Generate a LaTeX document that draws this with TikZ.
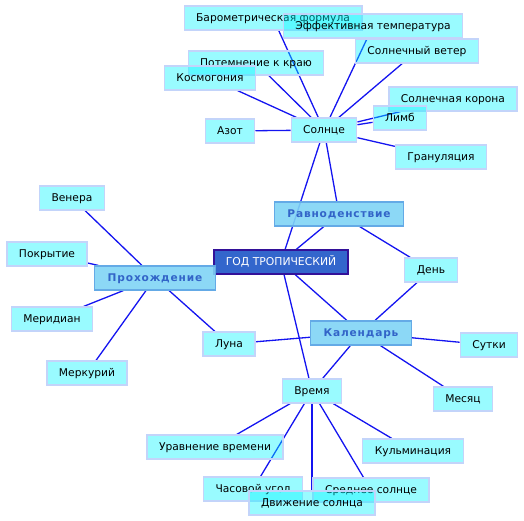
\documentclass[tikz,border=0pt]{standalone}
\usepackage{fontspec}
\setmainfont{DejaVu Sans}
\newfontfamily\hubfont{DejaVu Sans}[LetterSpace=8]
\usepackage{tikz}
\usetikzlibrary{backgrounds}
\definecolor{leaffill}{RGB}{0,245,255}
\definecolor{leafline}{RGB}{195,212,250}
\definecolor{hubfill}{RGB}{128,212,245}
\definecolor{hubline}{RGB}{100,170,230}
\definecolor{hubtext}{RGB}{50,100,200}
\definecolor{rootfill}{RGB}{51,102,204}
\definecolor{rootline}{RGB}{51,17,153}
\definecolor{linkblue}{RGB}{20,20,240}
\begin{document}
\begin{tikzpicture}[x=1pt,y=-1pt,
  leaf/.style={draw=leafline,line width=1.2pt,fill=leaffill,fill opacity=0.4,text opacity=1,
    inner xsep=12pt,inner ysep=0pt,minimum height=24pt,text height=8.5pt,text depth=1.6pt,
    font=\fontsize{10.7}{13}\selectfont},
  hub/.style={draw=hubline,line width=1.2pt,fill=hubfill,fill opacity=0.9,text opacity=1,
    text=hubtext,inner xsep=13pt,inner ysep=0pt,minimum height=24pt,text height=8.5pt,text depth=1.6pt,
    font=\fontsize{10.6}{13}\hubfont\bfseries},
  root/.style={draw=rootline,line width=1.5pt,fill=rootfill,text=white,
    inner xsep=12pt,inner ysep=0pt,minimum height=24pt,text height=8.5pt,text depth=1.6pt,
    font=\fontsize{10.8}{13}\selectfont},
  link/.style={draw=linkblue,line width=1.3pt}]

\useasboundingbox (0,0) rectangle (524,521);


\node[leaf] (baro) at (273,18) {Барометрическая формула};
\node[leaf] (eff) at (373,26) {Эффективная температура};
\node[leaf] (wind) at (417,51) {Солнечный ветер};
\node[leaf] (dark) at (256,63) {Потемнение к краю};
\node[leaf] (cosm) at (210,78) {Космогония};
\node[leaf] (corona) at (453,99) {Солнечная корона};
\node[leaf] (limb) at (400,118) {Лимб};
\node[leaf] (azot) at (230,131) {Азот};
\node[leaf] (sun) at (324,130) {Солнце};
\node[leaf] (gran) at (441,157) {Грануляция};

\node[hub] (equi) at (339,214) {Равноденствие};
\node[root] (god) at (281,262) {ГОД ТРОПИЧЕСКИЙ};
\node[leaf] (den) at (431,270) {День};

\node[hub] (pass) at (155,278) {Прохождение};
\node[leaf] (venus) at (72,198) {Венера};
\node[leaf] (cover) at (47,254) {Покрытие};
\node[leaf] (merid) at (52,319) {Меридиан};
\node[leaf] (moon) at (229,344) {Луна};
\node[leaf] (merc) at (87,373) {Меркурий};

\node[hub] (cal) at (361,333) {Календарь};
\node[leaf] (sutki) at (489,345) {Сутки};
\node[leaf] (month) at (463,399) {Месяц};

\node[leaf] (time) at (312,391) {Время};
\node[leaf] (eqt) at (215,447) {Уравнение времени};
\node[leaf] (kulm) at (413,451) {Кульминация};
\node[leaf] (hour) at (253,489) {Часовой угол};
\node[leaf] (mean) at (371,490) {Среднее солнце};
\node[leaf] (motion) at (312,503) {Движение солнца};


\begin{scope}[on background layer,every path/.style={link}]
\draw (sun)--(baro);
\draw (sun)--(eff);
\draw (sun)--(wind);
\draw (sun)--(dark);
\draw (sun)--(cosm);
\draw (sun)--(corona);
\draw (sun)--(limb);
\draw (sun)--(azot);
\draw (sun)--(gran);
\draw (sun)--(equi);
\draw (sun)--(god);

\draw (equi)--(god);
\draw (equi)--(den);

\draw (god)--(pass);
\draw (god)--(cal);
\draw (god)--(time);

\draw (pass)--(venus);
\draw (pass)--(cover);
\draw (pass)--(merid);
\draw (pass)--(merc);
\draw (pass)--(moon);

\draw (cal)--(den);
\draw (cal)--(moon);
\draw (cal)--(sutki);
\draw (cal)--(month);
\draw (cal)--(time);

\draw (time)--(eqt);
\draw (time)--(hour);
\draw (time)--(motion);
\draw (time)--(mean);
\draw (time)--(kulm);
\end{scope}

\end{tikzpicture}
\end{document}
